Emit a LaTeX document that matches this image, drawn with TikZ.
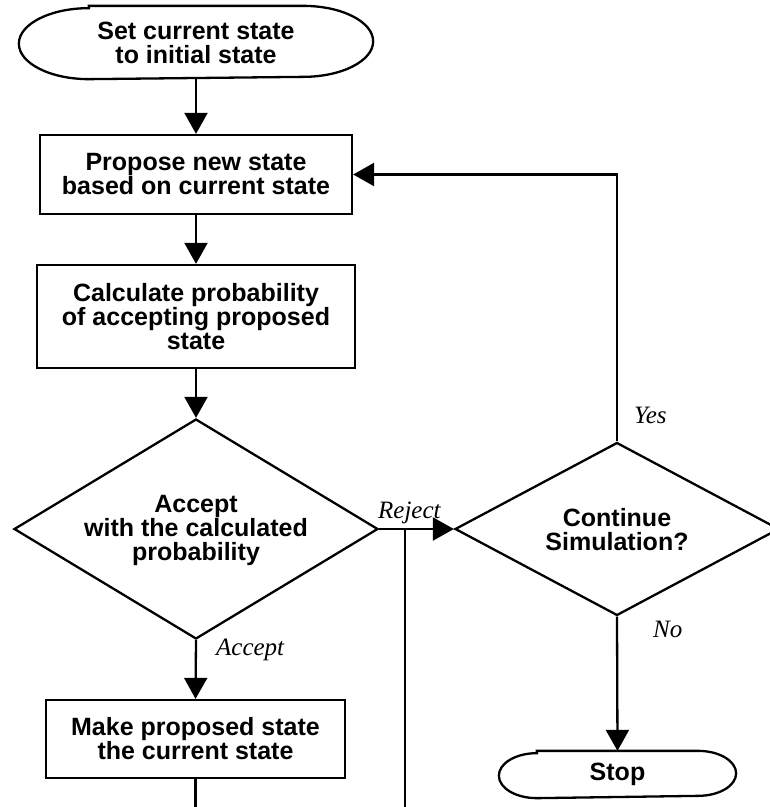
\documentclass[tikz,border=0pt]{standalone}
\usepackage{fontspec}
\setmainfont{Liberation Serif}
\newfontfamily\boxfont{Liberation Sans}
\usetikzlibrary{arrows.meta,shapes.geometric,calc}
\begin{document}
\begin{tikzpicture}[x=1pt,y=-1pt,line width=2.3pt,
  txt/.style={inner sep=0pt, align=center, font=\boxfont\bfseries\fontsize{25}{24}\selectfont},
  box/.style={txt, draw},
  dia/.style={diamond, draw, inner sep=0pt},
  lbl/.style={font=\itshape\fontsize{25}{30}\selectfont, inner sep=0pt, anchor=base west},
  arr/.style={-{Triangle[length=21pt,width=23pt]}},
]
\clip (0,0) rectangle (770,807);

% start oval
\node[txt, minimum width=352pt, minimum height=71pt] (start) at (196,42.5) {Set current state\\to initial state};
\draw ([xshift=70pt]start.north west) -- ([xshift=-70pt]start.north east)
  arc[start angle=90, end angle=-90, x radius=70pt, y radius=35.5pt]
  -- ([xshift=70pt]start.south west)
  arc[start angle=270, end angle=90, x radius=70pt, y radius=35.5pt] -- cycle;

\node[box, minimum width=312pt, minimum height=79pt] (box1) at (196,174.5) {Propose new state\\based on current state};
\node[box, minimum width=318pt, minimum height=103pt] (box2) at (196,316.5) {Calculate probability\\of accepting proposed\\state};

\node[dia, minimum width=364pt, minimum height=220pt] (d1) at (196,529) {};
\node[txt] (d1t) at (196,530) {Accept\\with the calculated\\probability};

\node[box, minimum width=299pt, minimum height=78pt] (box3) at (195.5,739) {Make proposed state\\the current state};

\node[dia, minimum width=324pt, minimum height=173pt] (d2) at (617,529) {};
\node[txt] (d2t) at (617,530) {Continue\\Simulation?};

% stop oval
\node[txt, minimum width=235pt, minimum height=45pt] (stop) at (617.5,774.5) {Stop};
\draw ([xshift=38pt]stop.north west) -- ([xshift=-38pt]stop.north east)
  arc[start angle=90, end angle=-90, x radius=38pt, y radius=22.5pt]
  -- ([xshift=38pt]stop.south west)
  arc[start angle=270, end angle=90, x radius=38pt, y radius=22.5pt] -- cycle;

% connectors
\draw[arr] (start.south) -- (box1.north);
\draw[arr] (box1.south) -- (box2.north);
\draw[arr] (box2.south) -- (d1.north);
\draw[arr] (d1.south) -- (box3.north);
\draw[arr] (d1.east) -- (d2.west);
\draw[arr] (d2.north) |- (box1.east);
\draw[arr] (d2.south) -- (stop.north);

\coordinate (rjb) at (405,807);
\coordinate (b3b) at (196,807);
\draw (d1.east -| rjb) -- (rjb);
\draw (box3.south) -- (box3.south |- b3b);

% labels
\node[lbl] (lrej) at (377,518) {Reject};
\node[lbl] (lyes) at (633,423) {Yes};
\node[lbl] (lno) at (652,637) {No};
\node[lbl] (lacc) at (215,655) {Accept};
\end{tikzpicture}
\end{document}
